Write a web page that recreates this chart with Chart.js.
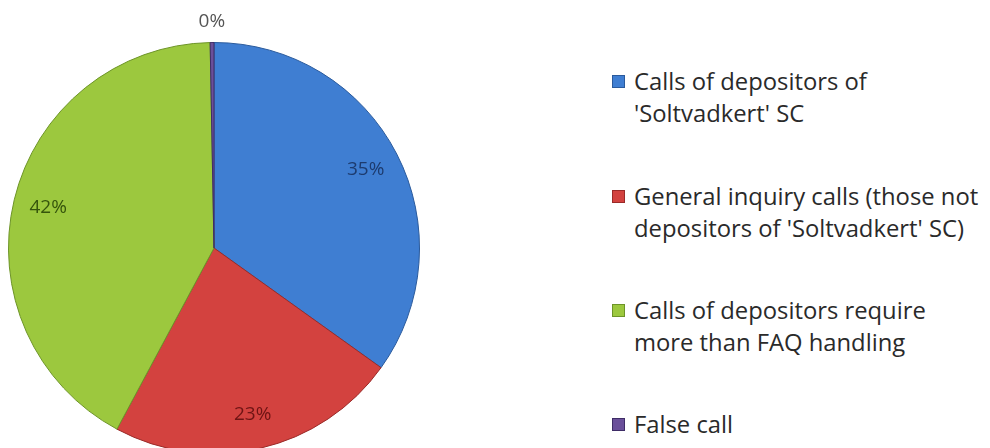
<!DOCTYPE html>
<html>
<head>
<meta charset="utf-8">
<script src="https://cdn.jsdelivr.net/npm/chart.js@4/dist/chart.umd.min.js"></script>
<style>
    html, body { margin: 0; padding: 0; background: #fff; overflow: hidden; }
    body { width: 990px; height: 448px; position: relative; }
    #pieWrap { position: absolute; left: 0; top: 0; width: 430px; height: 470px; }
    #legend { position: absolute; left: 612px; top: 0; font-family: "Open Sans", Lato, sans-serif; font-size: 23.8px; color: #2a2a2a; }
    .item { position: absolute; left: 0; white-space: nowrap; line-height: 32px; }
    .box { position: absolute; left: 0; top: 10px; width: 11px; height: 11px; }
    .txt { position: absolute; left: 22px; top: 0; }
</style>
</head>
<body>
<div id="pieWrap"><canvas id="pie"></canvas></div>
<div id="legend"></div>
<script>
// Data
const categories = [
    ["Calls of depositors of", "'Soltvadkert' SC"],
    ["General inquiry calls (those not", "depositors of 'Soltvadkert' SC)"],
    ["Calls of depositors require", "more than FAQ handling"],
    ["False call"]
];
const shares = [35, 23, 42, 0.3];
const colors = ['#3f7ed2', '#d3423f', '#9cc83e', '#6a4f9a'];
const edgeColors = ['#2a5a9c', '#9a2a28', '#6d9428', '#3e2c66'];
const labelColors = ['#1d3b6e', '#6e1414', '#35540c', '#555555'];

// Percentage labels drawn on the slices
const pctLabels = {
    id: 'pctLabels',
    afterDatasetsDraw(chart) {
        const ctx = chart.ctx;
        const meta = chart.getDatasetMeta(0);
        const total = shares.reduce((a, b) => a + b, 0);
        ctx.save();
        ctx.font = '19px "Open Sans", Lato, sans-serif';
        ctx.textAlign = 'center';
        ctx.textBaseline = 'middle';
        meta.data.forEach((arc, i) => {
            const mid = (arc.startAngle + arc.endAngle) / 2;
            const r = arc.outerRadius * (shares[i] / total < 0.01 ? 1.1 : 0.83);
            const x = arc.x + Math.cos(mid) * r;
            const y = arc.y + Math.sin(mid) * r;
            ctx.fillStyle = labelColors[i];
            ctx.fillText(Math.round(shares[i] / total * 100) + '%', x, y);
        });
        ctx.restore();
    }
};

new Chart(document.getElementById('pie'), {
    type: 'pie',
    data: {
        labels: categories.map(c => c.join(' ')),
        datasets: [{
            data: shares,
            backgroundColor: colors,
            borderColor: edgeColors,
            borderWidth: 1
        }]
    },
    options: {
        responsive: true,
        maintainAspectRatio: false,
        animation: false,
        layout: { padding: { left: 8, top: 42, right: 10, bottom: 16 } },
        plugins: {
            legend: { display: false },
            tooltip: { enabled: false }
        }
    },
    plugins: [pctLabels]
});

// Legend on the right
const legend = document.getElementById('legend');
const itemTops = [65, 180, 294, 408];
categories.forEach((lines, i) => {
    const item = document.createElement('div');
    item.className = 'item';
    item.style.top = itemTops[i] + 'px';
    const box = document.createElement('div');
    box.className = 'box';
    box.style.background = colors[i];
    box.style.border = '1px solid ' + edgeColors[i];
    const txt = document.createElement('div');
    txt.className = 'txt';
    txt.innerHTML = lines.join('<br>');
    item.appendChild(box);
    item.appendChild(txt);
    legend.appendChild(item);
});
</script>
</body>
</html>
